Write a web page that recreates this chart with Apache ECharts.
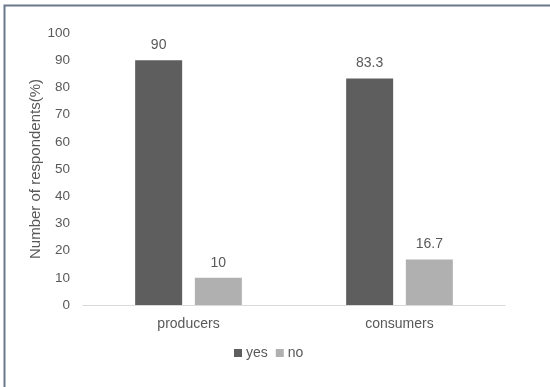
<!DOCTYPE html>
<html>
<head>
<meta charset="utf-8">
<script src="https://cdn.jsdelivr.net/npm/echarts@6/dist/echarts.min.js"></script>
<style>
html, body { margin: 0; padding: 0; background: #fff; }
#chart { width: 550px; height: 387px; }
</style>
</head>
<body>
<div id="chart"></div>
<script>
// Survey groups and answers (percent of respondents)
const categories = ['producers', 'consumers'];
const yesValues = [90, 83.3];
const noValues = [10, 16.7];
const yTicks = { min: 0, max: 100, interval: 10 };

const textColor = '#595959';
const font = 'Liberation Sans, Arial, sans-serif';

const chart = echarts.init(document.getElementById('chart'));
chart.setOption({
  animation: false,
  textStyle: { fontFamily: font },
  graphic: [{
    type: 'rect',
    shape: { x: 4.5, y: 5.5, width: 600, height: 500 },
    style: { fill: 'none', stroke: '#6b7889', lineWidth: 2 },
    silent: true
  }],
  grid: { left: 83, right: 45, top: 33, bottom: 82 },
  legend: {
    data: ['yes', 'no'],
    left: 229,
    top: 341,
    itemWidth: 8,
    itemHeight: 8,
    itemGap: 8,
    icon: 'rect',
    textStyle: { color: textColor, fontSize: 14, fontFamily: font, padding: [0, 0, 0, -1] }
  },
  xAxis: {
    type: 'category',
    data: categories,
    axisLine: { lineStyle: { color: '#d9d9d9', width: 1 } },
    axisTick: { show: false },
    axisLabel: { color: textColor, fontSize: 14, margin: 12, fontFamily: font }
  },
  yAxis: {
    type: 'value',
    min: yTicks.min,
    max: yTicks.max,
    interval: yTicks.interval,
    name: 'Number of respondents(%)',
    nameLocation: 'middle',
    nameGap: 40,
    nameMoveOverlap: false,
    nameTextStyle: { color: textColor, fontSize: 15, fontFamily: font },
    axisLine: { show: false },
    axisTick: { show: false },
    splitLine: { show: false },
    axisLabel: { color: textColor, fontSize: 13.5, margin: 13, fontFamily: font }
  },
  series: [
    {
      name: 'yes',
      type: 'bar',
      data: yesValues,
      barWidth: 47,
      barGap: '27%',
      itemStyle: { color: '#5e5e5e' },
      label: { show: true, position: 'top', distance: 8, color: textColor, fontSize: 14, fontFamily: font }
    },
    {
      name: 'no',
      type: 'bar',
      data: noValues,
      barWidth: 47,
      itemStyle: { color: '#b0b0b0' },
      label: { show: true, position: 'top', distance: 8, color: textColor, fontSize: 14, fontFamily: font }
    }
  ]
});
</script>
</body>
</html>
